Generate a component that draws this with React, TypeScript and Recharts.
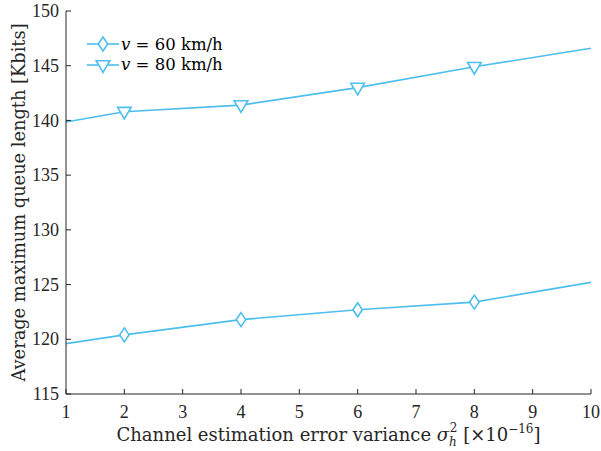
import { LineChart, Line, XAxis, YAxis, Legend, Label } from 'recharts';

const COLOR = '#4DBEEE';
const AXIS_COLOR = '#262626';
const FONT = '"Liberation Serif", serif';
const TITLE_FONT = '"DejaVu Serif", serif';

// x = channel estimation error variance (x1e-16)
const variance = [1, 2, 4, 6, 8, 10];
const queue60 = [119.6, 120.4, 121.8, 122.7, 123.4, 125.2];
const queue80 = [139.85, 140.8, 141.4, 143.0, 144.9, 146.6];
const markerAt = [2, 4, 6, 8];

const xTicks = [1, 2, 3, 4, 5, 6, 7, 8, 9, 10];
const yTicks = [115, 120, 125, 130, 135, 140, 145, 150];

const series = [
  { key: 'v60', label: '60 km/h', shape: 'diamond' },
  { key: 'v80', label: '80 km/h', shape: 'triangle' },
];

const data = variance.map((x, i) => ({ x, v60: queue60[i], v80: queue80[i] }));

function Marker({ cx, cy, shape }: { cx: number; cy: number; shape: string }) {
  const d =
    shape === 'diamond'
      ? `M${cx},${cy - 7} L${cx + 4.7},${cy} L${cx},${cy + 7} L${cx - 4.7},${cy} Z`
      : `M${cx - 6.8},${cy - 4.3} L${cx + 6.8},${cy - 4.3} L${cx},${cy + 7.3} Z`;
  return <path d={d} fill="#fff" stroke={COLOR} strokeWidth={1.6} />;
}

function dotFor(shape: string) {
  return (props: any) => {
    const { cx, cy, payload, index } = props;
    if (!markerAt.includes(payload.x)) return <g key={`m-${shape}-${index}`} />;
    return (
      <g key={`m-${shape}-${index}`}>
        <Marker cx={cx} cy={cy} shape={shape} />
      </g>
    );
  };
}

const BottomTick = (props: any) => (
  <text x={props.x} y={props.y} dy="0.72em" textAnchor="middle" fontFamily={FONT} fontSize={18} fill={AXIS_COLOR}>
    {props.payload.value}
  </text>
);

const LeftTick = (props: any) => (
  <text x={props.x} y={props.y} dy="0.34em" textAnchor="end" fontFamily={FONT} fontSize={18} fill={AXIS_COLOR}>
    {props.payload.value}
  </text>
);

function LegendBox() {
  return (
    <div style={{ fontFamily: TITLE_FONT, fontSize: 16.5, color: '#000' }}>
      {series.map((s) => (
        <div key={s.key} style={{ display: 'flex', alignItems: 'center', height: 20.5 }}>
          <svg width={37} height={20}>
            <line x1={3} y1={10} x2={35} y2={10} stroke={COLOR} strokeWidth={1.6} />
            <Marker cx={19} cy={10} shape={s.shape} />
          </svg>
          <span>
            <i>v</i> = {s.label}
          </span>
        </div>
      ))}
    </div>
  );
}

function XTitle(props: any) {
  const { viewBox } = props;
  const cx = viewBox.x + viewBox.width / 2;
  return (
    <text x={cx} y={441} textAnchor="middle" fontFamily={TITLE_FONT} fontSize={18} fill={AXIS_COLOR}>
      Channel estimation error variance <tspan fontStyle="italic">σ</tspan>
      <tspan fontSize={12} fontStyle="italic" dy={5}>h</tspan>
      <tspan fontSize={12} dx={-7} dy={-14}>2</tspan>
      <tspan dy={9}> [×10</tspan>
      <tspan fontSize={12} dy={-8}>−16</tspan>
      <tspan dy={8}>]</tspan>
    </text>
  );
}

export default function App() {
  return (
    <div
      style={{
        position: 'absolute',
        left: 0,
        top: 0,
        width: 601,
        height: 451,
        background: '#fff',
        fontFamily: FONT,
      }}
    >
      <LineChart width={601} height={451} data={data} margin={{ top: 11, right: 10, bottom: 0, left: 0 }}>
        <XAxis
          dataKey="x"
          type="number"
          domain={[1, 10]}
          ticks={xTicks}
          height={57}
          stroke={AXIS_COLOR}
          tickSize={-5}
          tickMargin={16}
          tick={BottomTick}
        >
          <Label content={<XTitle />} />
        </XAxis>
        <XAxis
          xAxisId="top"
          orientation="top"
          dataKey="x"
          type="number"
          domain={[1, 10]}
          ticks={xTicks}
          height={0}
          stroke={AXIS_COLOR}
          tickSize={-5}
          tick={false}
        />
        <YAxis
          type="number"
          domain={[115, 150]}
          ticks={yTicks}
          width={66}
          stroke={AXIS_COLOR}
          tickSize={-5}
          tickMargin={12}
          tick={LeftTick}
          label={{
            value: 'Average maximum queue length [Kbits]',
            angle: -90,
            position: 'center',
            dx: -14,
            fill: AXIS_COLOR,
            fontFamily: TITLE_FONT,
            fontSize: 17.8,
          }}
        />
        <YAxis
          yAxisId="right"
          orientation="right"
          type="number"
          domain={[115, 150]}
          ticks={yTicks}
          width={0}
          stroke={AXIS_COLOR}
          tickSize={-5}
          tick={false}
        />
        <Legend
          content={<LegendBox />}
          layout="horizontal"
          align="center"
          verticalAlign="middle"
          wrapperStyle={{ position: 'absolute', left: 84, top: 34, width: 'auto' }}
        />
        <Line
          dataKey="v60"
          stroke={COLOR}
          strokeWidth={1.6}
          dot={dotFor('diamond')}
          activeDot={false}
          isAnimationActive={false}
        />
        <Line
          dataKey="v80"
          stroke={COLOR}
          strokeWidth={1.6}
          dot={dotFor('triangle')}
          activeDot={false}
          isAnimationActive={false}
        />
      </LineChart>
    </div>
  );
}
